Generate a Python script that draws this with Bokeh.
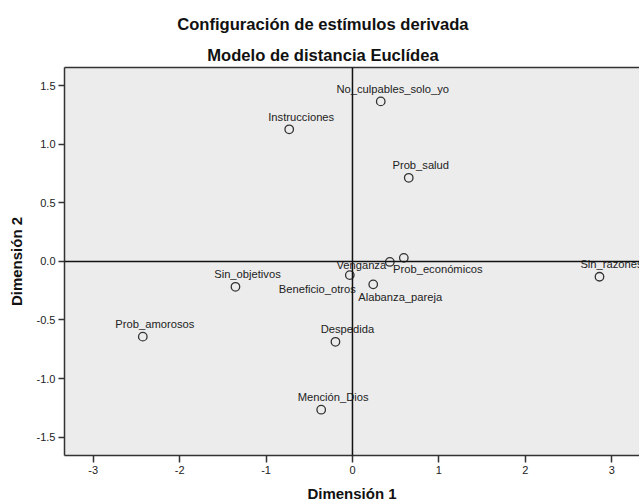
from bokeh.plotting import figure
from bokeh.models import ColumnDataSource, Span, LinearAxis, Title, FixedTicker
from bokeh.core.properties import value
from bokeh.embed import file_html
from bokeh.resources import INLINE

# ---- data ----
stimuli = ["No_culpables_solo_yo", "Instrucciones", "Prob_salud", "Prob_económicos",
           "Alabanza_pareja", "Venganza", "Beneficio_otros", "Sin_razones",
           "Sin_objetivos", "Prob_amorosos", "Despedida", "Mención_Dios"]
dim1 = [0.327, -0.732, 0.651, 0.594, 0.432, -0.031, 0.240, 2.858, -1.354, -2.426, -0.197, -0.362]
dim2 = [1.365, 1.127, 0.713, 0.030, -0.005, -0.117, -0.196, -0.131, -0.217, -0.642, -0.686, -1.265]

x_ticks = [-3, -2, -1, 0, 1, 2, 3]
x_tick_labels = ["-3", "-2", "-1", "0", "1", "2", "3"]
y_ticks = [-1.5, -1.0, -0.5, 0.0, 0.5, 1.0, 1.5]
y_tick_labels = ["-1.5", "-1.0", "-0.5", "0.0", "0.5", "1.0", "1.5"]

title_text = "Configuración de estímulos derivada"
subtitle_text = "Modelo de distancia Euclídea"
x_label = "Dimensión 1"
y_label = "Dimensión 2"

# label placement (screen px offsets from the marker, style only)
lab_dx = [12, 12, 12, 34, 10.4, 11.5, -55.9, 12, 12, 12, 12, 12]
lab_dy = [-12.5, -12.5, -12.5, 11.3, 35.3, -10, 5, -12.5, -12.5, -12.5, -12.5, -12.5]

FONT = "Liberation Sans"
DARK = "#222222"

src = ColumnDataSource(dict(x=dim1, y=dim2, name=stimuli, dx=lab_dx, dy=lab_dy))

p = figure(width=639, height=504, output_backend="svg", toolbar_location=None,
           x_range=(-3.332, 3.321), y_range=(-1.656, 1.654), title=None,
           min_border_left=64, min_border_right=0, min_border_top=67, min_border_bottom=48)
p.background_fill_color = "#ececec"
p.border_fill_color = "white"
p.outline_line_color = None
p.xgrid.visible = False
p.ygrid.visible = False

for ax in (p.xaxis[0], p.yaxis[0]):
    ax.axis_line_color = "#333333"
    ax.axis_line_width = 1.5
    ax.major_tick_line_color = "#333333"
    ax.major_tick_line_width = 1.5
    ax.major_tick_in = 0
    ax.minor_tick_line_color = None
    ax.major_label_text_font = FONT
    ax.major_label_text_font_size = "11px"
    ax.major_label_text_color = DARK
    ax.axis_label_text_font = FONT
    ax.axis_label_text_font_style = "bold"
    ax.axis_label_text_font_size = "15px"
    ax.axis_label_text_color = "#111111"

p.xaxis[0].ticker = FixedTicker(ticks=x_ticks)
p.xaxis[0].major_label_overrides = dict(zip(x_ticks, x_tick_labels))
p.xaxis[0].major_tick_out = 7
p.xaxis[0].major_label_standoff = 3
p.xaxis[0].axis_label = x_label
p.xaxis[0].axis_label_standoff = 8

p.yaxis[0].ticker = FixedTicker(ticks=y_ticks)
p.yaxis[0].major_label_overrides = dict(zip(y_ticks, y_tick_labels))
p.yaxis[0].major_tick_out = 6
p.yaxis[0].major_label_standoff = 3
p.yaxis[0].axis_label = y_label
p.yaxis[0].axis_label_standoff = 9

top = LinearAxis(ticker=FixedTicker(ticks=[]), axis_line_color="#333333", axis_line_width=1.5,
                 major_tick_line_color=None, minor_tick_line_color=None,
                 major_label_text_font_size="0px", major_label_standoff=0)
p.add_layout(top, "above")

p.add_layout(Title(text=subtitle_text, align="left", offset=142.7, text_font=FONT,
                   text_font_style="bold", text_font_size="16.6px", text_color="#111111",
                   standoff=5.5), "above")
p.add_layout(Title(text=title_text, align="left", offset=112.7, text_font=FONT,
                   text_font_style="bold", text_font_size="16.6px", text_color="#111111",
                   standoff=13), "above")

p.add_layout(Span(location=0, dimension="height", line_color="#111111", line_width=1.5))
p.add_layout(Span(location=0, dimension="width", line_color="#111111", line_width=1.5))

p.scatter("x", "y", source=src, size=8.5, fill_color=None, line_color="#333333", line_width=1.3)
p.text("x", "y", text="name", source=src, x_offset="dx", y_offset="dy",
       text_align="center", text_baseline="middle", text_font=value(FONT),
       text_font_size="11.2px", text_color=DARK)

open("out.html", "w").write(file_html(p, INLINE))
